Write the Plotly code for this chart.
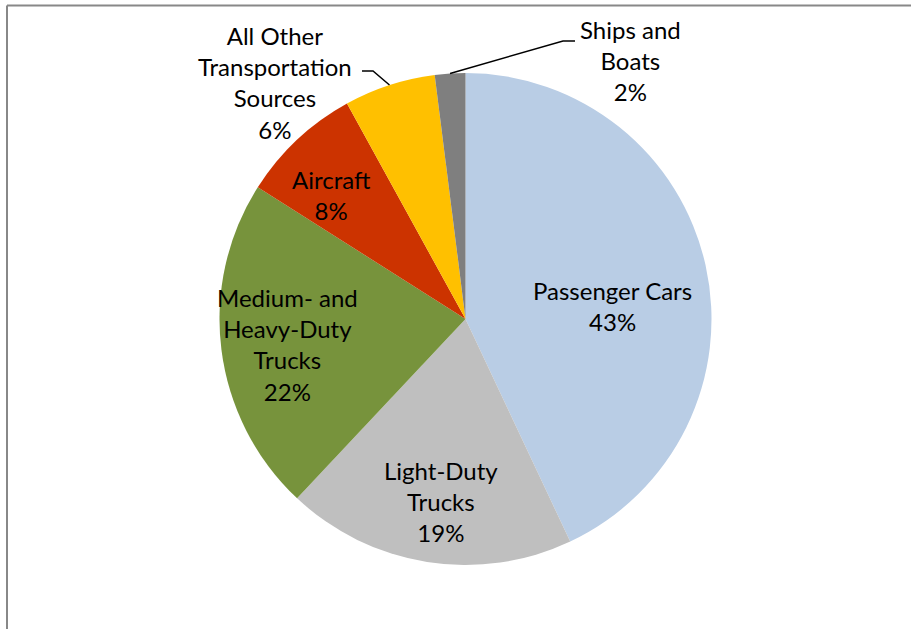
import math
import plotly.graph_objects as go

# ---- data ----
categories = ["Passenger Cars", "Light-Duty Trucks", "Medium- and Heavy-Duty Trucks",
              "Aircraft", "All Other Transportation Sources", "Ships and Boats"]
values = [43, 19, 22, 8, 6, 2]
label_text = ["Passenger Cars", "Light-Duty<br>Trucks", "Medium- and<br>Heavy-Duty<br>Trucks",
              "Aircraft", "All Other<br>Transportation<br>Sources", "Ships and<br>Boats"]
colors = ["#B9CDE5", "#BFBFBF", "#77933C", "#CC3300", "#FFC000", "#7F7F7F"]

W, H = 911, 629
CX, CY, R = 465.5, 319.0, 246.0   # pie centre / radius in pixels (layout)
FONT = "Lato"
FS = 24

def px2paper(x, y):
    return x / W, 1 - y / H

fig = go.Figure()
fig.add_trace(go.Pie(
    labels=categories, values=values, sort=False, direction="clockwise",
    rotation=0, marker=dict(colors=colors, line=dict(width=0)),
    textinfo="none", hoverinfo="label+percent", showlegend=False,
    domain=dict(x=[(CX - R) / W, (CX + R) / W], y=[1 - (CY + R) / H, 1 - (CY - R) / H]),
))

# label placement derived from slice mid-angles
total = sum(values)
cum = 0
mids = []
for v in values:
    mids.append((cum + v / 2) / total * 360)
    cum += v

inside_r = [0.60, 0.75, 0.73, 0.74]
inside_dang = [7.6, -1.3, -1.0, -4.0]
annotations = []
for i in range(4):
    a = math.radians(mids[i] + inside_dang[i])
    x = CX + inside_r[i] * R * math.sin(a)
    y = CY - inside_r[i] * R * math.cos(a)
    pct = round(values[i] / total * 100)
    xp, yp = px2paper(x, y)
    annotations.append(dict(x=xp, y=yp, xref="paper", yref="paper",
                            text=f"{label_text[i]}<br>{pct}%", showarrow=False,
                            font=dict(family=FONT, size=FS, color="black"),
                            xanchor="center", yanchor="middle", align="center"))

shapes = []
# outside labels with elbow leader lines
out_specs = {4: dict(label=(275, 82), elbow=[(362, 71), (373, 71)]),
             5: dict(label=(630, 61), elbow=[(575, 41), (563, 41)])}
for i, spec in out_specs.items():
    pct = round(values[i] / total * 100)
    lx, ly = spec["label"]
    xp, yp = px2paper(lx, ly)
    annotations.append(dict(x=xp, y=yp, xref="paper", yref="paper",
                            text=f"{label_text[i]}<br>{pct}%", showarrow=False,
                            font=dict(family=FONT, size=FS, color="black"),
                            xanchor="center", yanchor="middle", align="center"))
    a = math.radians(mids[i])
    ex = CX + R * math.sin(a)
    ey = CY - R * math.cos(a)
    pts = spec["elbow"] + [(ex, ey)]
    path = "M " + " L ".join(f"{px2paper(x, y)[0]},{px2paper(x, y)[1]}" for x, y in pts)
    shapes.append(dict(type="path", path=path, xref="paper", yref="paper",
                       line=dict(color="black", width=1.5)))

# chart frame (top and left edges visible)
shapes.append(dict(type="line", xref="paper", yref="paper",
                   x0=7 / W, x1=1, y0=1 - 5.5 / H, y1=1 - 5.5 / H,
                   line=dict(color="#888888", width=2)))
shapes.append(dict(type="line", xref="paper", yref="paper",
                   x0=7 / W, x1=7 / W, y0=0, y1=1 - 5.5 / H,
                   line=dict(color="#888888", width=2)))

fig.update_layout(width=W, height=H, margin=dict(l=0, r=0, t=0, b=0),
                  paper_bgcolor="white", plot_bgcolor="white",
                  annotations=annotations, shapes=shapes,
                  font=dict(family=FONT))
fig.write_html("out.html", config={"displayModeBar": False},
               post_script="document.body.style.margin='0';document.body.style.padding='0';")
